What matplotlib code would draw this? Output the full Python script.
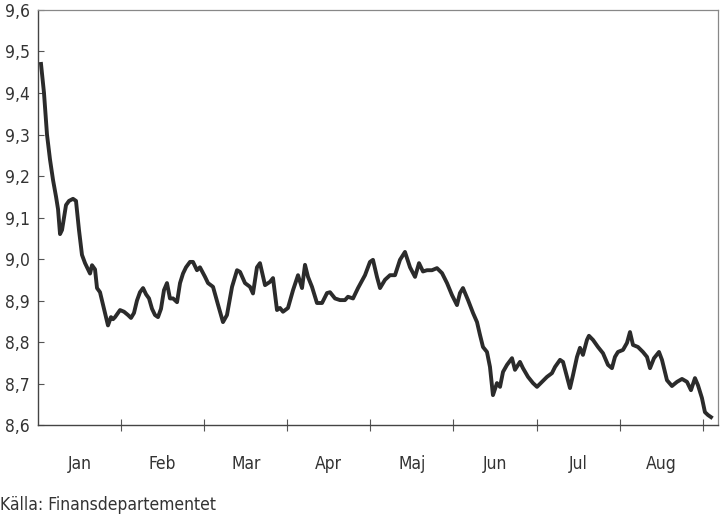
import matplotlib
matplotlib.use('Agg')
import matplotlib.pyplot as plt

# position in months from start of January, and the value
months = [0.036, 0.072, 0.108, 0.144, 0.181, 0.217, 0.241, 0.265, 0.289, 0.313,
          0.337, 0.373, 0.421, 0.457, 0.493, 0.529, 0.566, 0.602, 0.626, 0.650,
          0.686, 0.710, 0.746, 0.770, 0.806, 0.842, 0.878, 0.903, 0.927, 0.963,
          0.987, 1.035, 1.083, 1.119, 1.155, 1.191, 1.227, 1.264, 1.300, 1.336,
          1.372, 1.408, 1.444, 1.480, 1.516, 1.552, 1.588, 1.625, 1.673, 1.709,
          1.745, 1.781, 1.829, 1.865, 1.913, 1.949, 2.010, 2.046, 2.106, 2.166,
          2.226, 2.274, 2.335, 2.395, 2.431, 2.491, 2.551, 2.587, 2.635, 2.671,
          2.732, 2.792, 2.828, 2.876, 2.912, 2.948, 3.008, 3.069, 3.129, 3.177,
          3.213, 3.249, 3.297, 3.357, 3.418, 3.478, 3.514, 3.574, 3.634, 3.694,
          3.730, 3.791, 3.851, 3.935, 3.995, 4.031, 4.079, 4.116, 4.176, 4.236,
          4.296, 4.356, 4.416, 4.477, 4.537, 4.585, 4.633, 4.681, 4.741, 4.801,
          4.862, 4.922, 4.982, 5.042, 5.078, 5.114, 5.175, 5.235, 5.283, 5.319,
          5.355, 5.403, 5.439, 5.475, 5.523, 5.560, 5.596, 5.644, 5.704, 5.740,
          5.800, 5.836, 5.897, 5.957, 6.005, 6.065, 6.125, 6.185, 6.222, 6.282,
          6.318, 6.366, 6.402, 6.438, 6.486, 6.522, 6.558, 6.606, 6.630, 6.679,
          6.739, 6.799, 6.859, 6.907, 6.943, 6.979, 7.040, 7.088, 7.124, 7.160,
          7.220, 7.280, 7.329, 7.365, 7.413, 7.473, 7.509, 7.569, 7.629, 7.690,
          7.750, 7.810, 7.858, 7.906, 7.942, 7.990, 8.026, 8.063, 8.099]

values = [9.47, 9.40, 9.30, 9.24, 9.19, 9.15, 9.12, 9.06, 9.07, 9.10,
          9.13, 9.14, 9.145, 9.14, 9.07, 9.01, 8.99, 8.975, 8.965, 8.985,
          8.975, 8.93, 8.92, 8.90, 8.87, 8.84, 8.86, 8.855, 8.86, 8.87,
          8.877, 8.873, 8.865, 8.858, 8.87, 8.90, 8.92, 8.93, 8.915, 8.905,
          8.88, 8.865, 8.86, 8.88, 8.925, 8.942, 8.905, 8.905, 8.896, 8.942,
          8.965, 8.98, 8.993, 8.993, 8.973, 8.98, 8.957, 8.942, 8.933, 8.89,
          8.848, 8.865, 8.933, 8.973, 8.969, 8.942, 8.933, 8.917, 8.98, 8.99,
          8.937, 8.945, 8.954, 8.877, 8.882, 8.873, 8.882, 8.925, 8.961, 8.93,
          8.986, 8.957, 8.933, 8.894, 8.894, 8.918, 8.92, 8.905, 8.901, 8.901,
          8.909, 8.905, 8.93, 8.961, 8.993, 8.998, 8.957, 8.93, 8.95, 8.961,
          8.961, 8.998, 9.017, 8.98, 8.957, 8.99, 8.97, 8.973, 8.973, 8.978,
          8.966, 8.942, 8.913, 8.889, 8.918, 8.93, 8.901, 8.87, 8.848, 8.817,
          8.788, 8.776, 8.74, 8.672, 8.701, 8.692, 8.728, 8.745, 8.761, 8.733,
          8.752, 8.737, 8.716, 8.701, 8.692, 8.704, 8.716, 8.725, 8.74, 8.757,
          8.752, 8.716, 8.689, 8.72, 8.764, 8.786, 8.769, 8.805, 8.815, 8.805,
          8.788, 8.773, 8.745, 8.737, 8.764, 8.776, 8.781, 8.798, 8.824, 8.793,
          8.788, 8.776, 8.764, 8.737, 8.761, 8.776, 8.757, 8.708, 8.694, 8.704,
          8.711, 8.704, 8.684, 8.713, 8.696, 8.665, 8.631, 8.624, 8.619]

month_labels = ['Jan', 'Feb', 'Mar', 'Apr', 'Maj', 'Jun', 'Jul', 'Aug']
y_ticks = [8.6, 8.7, 8.8, 8.9, 9.0, 9.1, 9.2, 9.3, 9.4, 9.5, 9.6]
source = 'Källa: Finansdepartementet'

plt.rcParams['font.family'] = ['DejaVu Sans']
plt.rcParams['font.stretch'] = 'condensed'
ink = '#2b2b2b'

fig = plt.figure(figsize=(7.2, 5.18), dpi=100)
ax = fig.add_axes([0.0528, 0.1795, 0.9444, 0.8012])

ax.plot(months, values, color=ink, linewidth=2.8, solid_joinstyle='round')

ax.set_xlim(0, 8.183)
ax.set_ylim(8.6, 9.6)

ax.set_yticks(y_ticks)
ax.set_yticklabels([f'{v:.1f}'.replace('.', ',') for v in y_ticks])
ax.tick_params(axis='y', direction='in', length=4, width=0.8, color='#555555',
               labelsize=12.5, labelcolor='#333333', pad=6)

ax.set_xticks(range(1, 9))
ax.set_xticklabels([])
ax.tick_params(axis='x', which='major', direction='inout', length=9, width=0.8,
               color='#555555')
ax.set_xticks([i + 0.5 for i in range(8)], minor=True)
ax.set_xticklabels(month_labels, minor=True)
ax.tick_params(axis='x', which='minor', length=0, labelsize=12.5,
               labelcolor='#333333', pad=21.5)

for side in ['left', 'bottom']:
    ax.spines[side].set_color('#444444')
    ax.spines[side].set_linewidth(1.0)
for side in ['top', 'right']:
    ax.spines[side].set_color('#888888')
    ax.spines[side].set_linewidth(0.9)

fig.text(0.0, 0.026, source, fontsize=12.5, color='#333333', ha='left', va='center')

fig.savefig('out.png', dpi=100)
